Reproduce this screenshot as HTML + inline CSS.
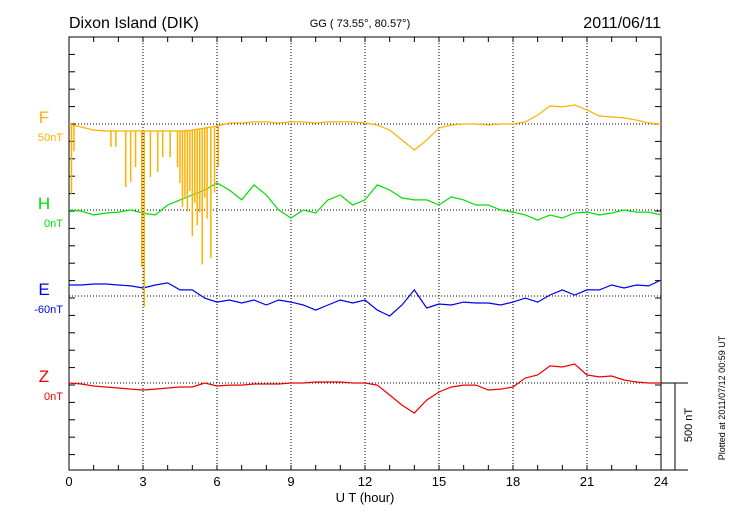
<!DOCTYPE html>
<html><head><meta charset="utf-8"><style>
body{margin:0;background:#fff}
svg{display:block;font-family:"Liberation Sans",sans-serif}
</style></head><body>
<svg id="c" width="730" height="520"></svg>
<script>
const hours=[0,0.5,1,1.5,2,2.5,3,3.5,4,4.5,5,5.5,6,6.5,7,7.5,8,8.5,9,9.5,10,10.5,11,11.5,12,12.5,13,13.5,14,14.5,15,15.5,16,16.5,17,17.5,18,18.5,19,19.5,20,20.5,21,21.5,22,22.5,23,23.5,24];
const fValues=[0,-17,-35,-40,-40,-40,-40,-40,-40,-40,-35,-23,-12,6,6,12,12,6,12,12,6,12,12,12,6,-6,-35,-92,-150,-92,-23,-6,0,0,-6,0,0,12,52,104,98,109,81,46,40,35,23,6,0];
const hValues=[0,-6,-29,-17,-12,0,-17,-29,29,58,86,115,155,115,58,144,86,0,-46,0,-17,58,86,29,58,144,115,69,58,58,29,75,58,29,29,0,-12,-29,-58,-29,-46,-17,-12,-29,-17,0,-12,-12,-29];
const eValues=[63,63,69,69,63,58,46,63,75,35,35,-12,-35,-23,-40,-23,-52,-23,-35,-52,-81,-52,-23,-40,-23,-81,-115,-52,35,-69,-46,-52,-35,-40,-40,-52,-35,-12,-35,6,35,6,35,35,63,46,63,58,92];
const zValues=[0,-6,-17,-23,-29,-35,-40,-35,-29,-23,-23,0,-17,-12,-12,-6,-6,-6,0,0,6,6,6,0,0,-12,-69,-127,-173,-98,-52,-23,-12,-12,-40,-35,-23,29,46,98,92,109,46,35,40,17,6,0,0];
const spikeHours=[0.1,0.2,1.7,1.9,2.3,2.5,2.7,2.95,3.05,3.3,3.6,3.8,4.1,4.4,4.5,4.6,4.7,4.8,4.9,5.0,5.1,5.2,5.3,5.4,5.5,5.6,5.75,5.9,6.05];
const spikeDepths=[-397,-150,-92,-92,-322,-293,-207,-782,-1012,-265,-236,-150,-150,-207,-300,-437,-380,-466,-350,-610,-420,-552,-480,-782,-400,-523,-753,-380,-236];
const xTicks=[0,3,6,9,12,15,18,21,24];

const L=69,R=661,T=37,B=470;
const pxPerNT=87/500;
const bases={F:124,H:210,E:296,Z:383};
const X=h=>L+(R-L)*h/24;
const Y=(base,v)=>base-v*pxPerNT;
const svg=document.getElementById('c');
const NS='http://www.w3.org/2000/svg';
function mk(tag,attrs,parent){const e=document.createElementNS(NS,tag);for(const k in attrs)e.setAttribute(k,attrs[k]);(parent||svg).appendChild(e);return e;}
function txt(s,attrs,name){const e=mk('text',attrs);e.textContent=s;return e;}

for(const h of xTicks){if(h>0&&h<24){const g=mk('line',{x1:X(h),x2:X(h),y1:T,y2:B,stroke:'#000','stroke-width':1,'stroke-dasharray':'1,2'});}}
for(const k of ['F','H','E','Z']){const g=mk('line',{x1:L,x2:R,y1:bases[k],y2:bases[k],stroke:'#000','stroke-width':1,'stroke-dasharray':'1,2'});}
const fr=mk('rect',{x:L,y:T,width:R-L,height:B-T,fill:'none',stroke:'#000','stroke-width':1});

for(let h=0;h<=24;h++){const x=X(h);mk('line',{x1:x,x2:x,y1:T,y2:T+5,stroke:'#000'});mk('line',{x1:x,x2:x,y1:B,y2:B-5,stroke:'#000'});}
for(let i=0;i<=25;i++){const y=T+i*(87/5);if(y>B)break;mk('line',{x1:L,x2:L+6,y1:y,y2:y,stroke:'#000'});mk('line',{x1:R,x2:R-6,y1:y,y2:y,stroke:'#000'});}
for(const h of xTicks){txt(String(h),{x:X(h),y:486,'font-size':13,'text-anchor':'middle'},'x-tick-label');}
txt('U T (hour)',{x:365,y:502,'font-size':13,'text-anchor':'middle'},'x-axis-title');
mk('line',{x1:R,x2:688,y1:B,y2:B,stroke:'#000'});
mk('line',{x1:R,x2:688,y1:383,y2:383,stroke:'#000'});
const sb=mk('line',{x1:675,x2:675,y1:383,y2:B,stroke:'#000'});
txt('500 nT',{x:0,y:0,'font-size':11,'text-anchor':'middle',transform:'translate(692,425) rotate(-90)'},'scale-label');
txt('Plotted at 2011/07/12 00:59 UT',{x:0,y:0,'font-size':9,'text-anchor':'middle',transform:'translate(725,398) rotate(-90)'},'plotted-note');
txt('Dixon Island (DIK)',{x:69,y:28,'font-size':16},'station-title');
txt('GG ( 73.55°,  80.57°)',{x:360,y:27,'font-size':11,'text-anchor':'middle'},'coords-label');
txt('2011/06/11',{x:661,y:28,'font-size':16,'text-anchor':'end'},'date-label');
const series=[['F',fValues,'#FFB000','50nT'],['H',hValues,'#00E000','0nT'],['E',eValues,'#0000EE','-60nT'],['Z',zValues,'#EE0000','0nT']];
for(const [k,vals,col,lab] of series){
  const b=bases[k];
  txt(k,{x:44,y:b-1,'font-size':17,fill:col,'text-anchor':'middle'},'series-label-'+k.toLowerCase());
  txt(lab,{x:63,y:b+17,'font-size':11,fill:col,'text-anchor':'end'},'series-offset-'+k.toLowerCase());
  const pts=hours.map((h,i)=>X(h).toFixed(1)+','+Y(b,vals[i]).toFixed(1)).join(' ');
  const p=mk('polyline',{points:pts,fill:'none',stroke:col,'stroke-width':1.2});
  
  
}
const base=bases.F;
function interp(arr,h){const i=Math.min(Math.floor(h/0.5),hours.length-2);const t=(h-hours[i])/0.5;return arr[i]+(arr[i+1]-arr[i])*t;}
spikeHours.forEach((h,i)=>{
  const v0=interp(fValues,h);
  const s=mk('line',{x1:X(h),x2:X(h),y1:Y(base,v0),y2:Y(base,v0+spikeDepths[i]),stroke:'#FFB000','stroke-width':1.5});
  
  
});
</script>
</body></html>
